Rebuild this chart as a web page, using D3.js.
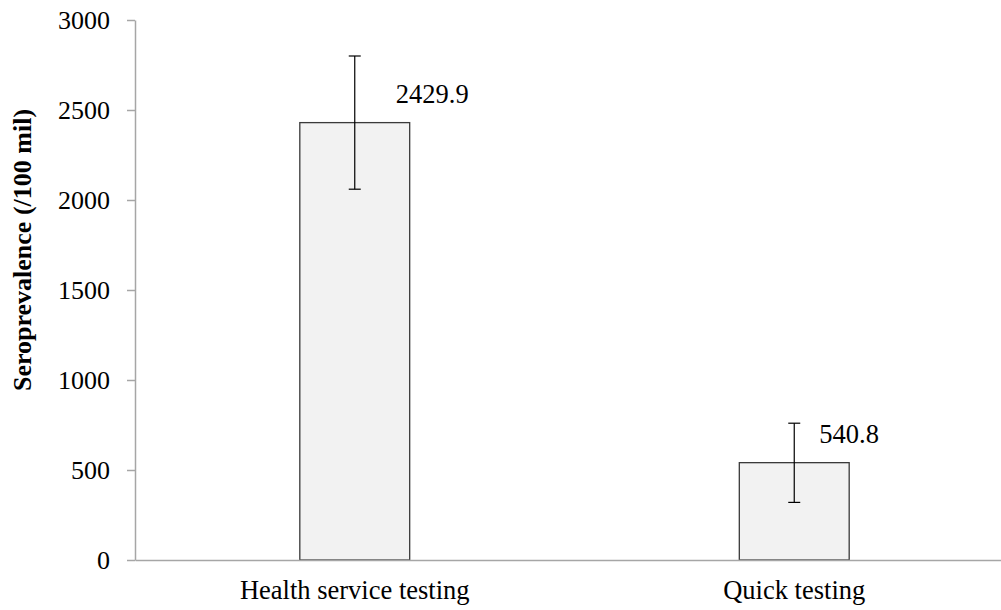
<!DOCTYPE html>
<html>
<head>
<meta charset="utf-8">
<script src="https://cdn.jsdelivr.net/npm/d3@7"></script>
<style>
  body { margin: 0; background: #fff; }
  svg text { font-family: "Liberation Serif", "DejaVu Serif", serif !important; }
</style>
</head>
<body>
<div id="chart"></div>
<script>
// Data
let categories = ["Health service testing", "Quick testing"];
let values = [2429.9, 540.8];
let errLow = [2060, 320];
let errHigh = [2800, 760];
let yTicks = [0, 500, 1000, 1500, 2000, 2500, 3000];

// label nudges (px, right of bar centre) as placed in the original
let labelShift = [41, 25];

let W = 1001, H = 610;
let dim = { top: 20, left: 135, bottom: 50, right: -13 };
let font = "'Liberation Serif', serif";

let svg = d3.select("#chart")
  .append("svg")
  .attr("width", W)
  .attr("height", H)
  .attr("font-family", font);

let x = d3.scaleBand()
  .domain(categories)
  .range([dim.left, W - dim.right])
  .paddingInner(0.75)
  .paddingOuter(0.375);

let y = d3.scaleLinear()
  .domain([0, 3000])
  .range([H - dim.bottom, dim.top]);

// Y axis
let yAxis = svg.append("g")
  .attr("transform", "translate(" + dim.left + ",0)")
  .call(d3.axisLeft(y).tickValues(yTicks).tickFormat(d3.format("d"))
    .tickSize(8).tickPadding(17).tickSizeOuter(0));
yAxis.attr("font-family", font).attr("font-size", 26);
yAxis.select(".domain").attr("stroke", "#a6a6a6").attr("stroke-width", 1.5);
yAxis.selectAll(".tick line").attr("stroke", "#a6a6a6").attr("stroke-width", 1.5);
yAxis.selectAll(".tick text").attr("fill", "#000");

// Bars
svg.selectAll("rect.bar")
  .data(values)
  .enter()
  .append("rect")
  .attr("class", "bar")
  .attr("x", (d, i) => x(categories[i]))
  .attr("width", x.bandwidth())
  .attr("y", d => y(d))
  .attr("height", d => y(0) - y(d))
  .attr("fill", "#f2f2f2")
  .attr("stroke", "#3a3a3a")
  .attr("stroke-width", 1.3);

// X axis (drawn over bar bottoms)
let xAxis = svg.append("g")
  .attr("transform", "translate(0," + y(0) + ")")
  .call(d3.axisBottom(x).tickSize(0).tickPadding(20).tickSizeOuter(0));
xAxis.attr("font-family", font).attr("font-size", 26.5);
xAxis.select(".domain").attr("stroke", "#a6a6a6").attr("stroke-width", 1.5);
xAxis.selectAll(".tick text").attr("fill", "#000");

// Error bars
let cx = i => x(categories[i]) + x.bandwidth() / 2;
let err = svg.append("g").attr("stroke", "#000").attr("stroke-width", 1.2);
err.selectAll("line.stem")
  .data(values)
  .enter()
  .append("line")
  .attr("x1", (d, i) => cx(i))
  .attr("x2", (d, i) => cx(i))
  .attr("y1", (d, i) => y(errLow[i]))
  .attr("y2", (d, i) => y(errHigh[i]));
err.selectAll("line.capHi")
  .data(values)
  .enter()
  .append("line")
  .attr("x1", (d, i) => cx(i) - 6)
  .attr("x2", (d, i) => cx(i) + 6)
  .attr("y1", (d, i) => y(errHigh[i]))
  .attr("y2", (d, i) => y(errHigh[i]));
err.selectAll("line.capLo")
  .data(values)
  .enter()
  .append("line")
  .attr("x1", (d, i) => cx(i) - 6)
  .attr("x2", (d, i) => cx(i) + 6)
  .attr("y1", (d, i) => y(errLow[i]))
  .attr("y2", (d, i) => y(errLow[i]));

// Value labels
svg.selectAll("text.val")
  .data(values)
  .enter()
  .append("text")
  .attr("class", "val")
  .attr("x", (d, i) => cx(i) + labelShift[i])
  .attr("y", d => y(d) - 20)
  .attr("font-size", 26.5)
  .text(d => d.toFixed(1));

// Y label
svg.append("text")
  .attr("transform", "translate(31,250) rotate(-90)")
  .attr("text-anchor", "middle")
  .attr("font-size", 26)
  .attr("font-weight", "bold")
  .text("Seroprevalence (/100 mil)");
</script>
</body>
</html>
